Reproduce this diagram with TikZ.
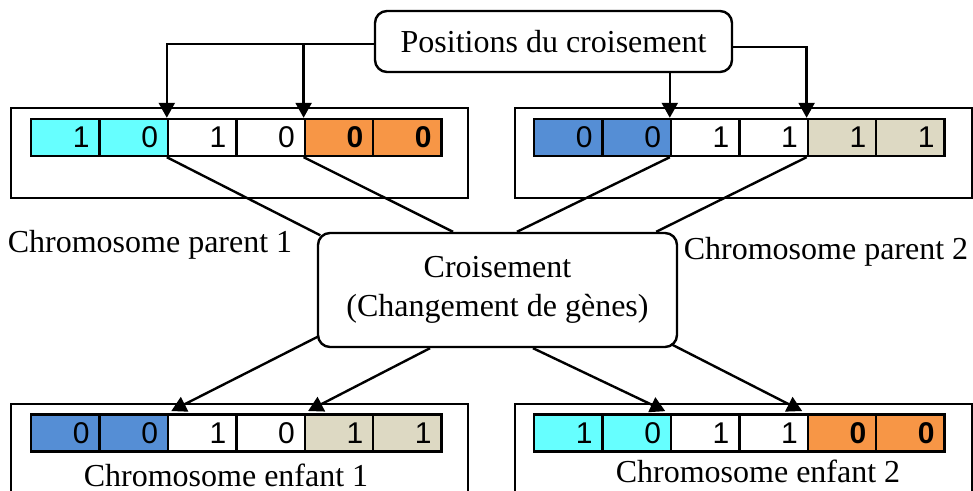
\documentclass[tikz,border=0pt]{standalone}
\usepackage{fontspec}
\setmainfont{Liberation Serif}
\newfontfamily\digitfont{Liberation Sans}
\usetikzlibrary{arrows.meta}

\definecolor{genecyan}{HTML}{66FFFF}
\definecolor{geneblue}{HTML}{558ED5}
\definecolor{geneorange}{HTML}{F79646}
\definecolor{genebeige}{HTML}{DDD9C3}

\tikzset{
  gene/.style = {draw, line width=1.2pt, anchor=west, minimum height=18.5pt,
    text width=24.2pt, inner xsep=5pt, inner ysep=0pt, align=right,
    font=\digitfont\fontsize{15}{17}\selectfont},
  chromo/.style = {draw, line width=1.2pt, minimum width=228.5pt},
  rbox/.style = {draw, line width=1.2pt, rounded corners=6pt, fill=white,
    align=center, font=\fontsize{16}{19.5}\selectfont},
  chromlabel/.style = {anchor=base, inner sep=0pt, font=\fontsize{16}{19.5}\selectfont},
  link/.style = {line width=1.2pt},
  fleche/.style = {line width=1.2pt, -{Triangle[length=7.5pt, width=8pt]}}
}

\begin{document}
\begin{tikzpicture}[x=0.5pt, y=-0.5pt]

\useasboundingbox ( 0, 0 ) rectangle ( 973, 491 );
\clip ( 0, 0 ) rectangle ( 973, 491 );

% Frames of the chromosomes
\node (par1) [chromo, minimum height=45pt] at ( 239.5, 153 ) {};
\node (par2) [chromo, minimum height=45pt] at ( 743.5, 153 ) {};
\node (enf1) [chromo, minimum height=58pt] at ( 239.5, 462 ) {};
\node (enf2) [chromo, minimum height=58pt] at ( 743.5, 462 ) {};

% Genes
\foreach \nom/\xo/\yo/\genes in {par1/30/137.5/{genecyan/1,genecyan/0,white/1,white/0,geneorange/\bfseries 0,geneorange/\bfseries 0},par2/533/137.5/{geneblue/0,geneblue/0,white/1,white/1,genebeige/1,genebeige/1},enf1/30/433/{geneblue/0,geneblue/0,white/1,white/0,genebeige/1,genebeige/1},enf2/533/433/{genecyan/1,genecyan/0,white/1,white/1,geneorange/\bfseries 0,geneorange/\bfseries 0}}
  \foreach \col/\val [count=\i] in \genes
    \node (\nom-\i) [gene, fill=\col] at ( {\xo+(\i-1)*68.4}, \yo ) {\val};

% Labels
\node (par1lbl) [chromlabel] at ( 150, 253 ) {Chromosome parent 1};
\node (par2lbl) [chromlabel] at ( 826, 260 ) {Chromosome parent 2};
\node (enf1lbl) [chromlabel] at ( 226, 486 ) {Chromosome enfant 1};
\node (enf2lbl) [chromlabel] at ( 758, 482 ) {Chromosome enfant 2};

% Boxes
\node (pos) [rbox, minimum width=178.5pt, minimum height=30.5pt] at ( 553.5, 41.5 ) {Positions du croisement};
\node (cross) [rbox, minimum width=179.5pt, minimum height=57pt] at ( 497.5, 290 ) {Croisement\\(Changement de gènes)};

% Crossover positions
\coordinate (posl) at ([yshift=-1.25pt]pos.west);
\coordinate (posr) at ([yshift=-2.75pt]pos.east);
\draw [fleche] (posl) -| (par1-3.north west);
\draw [fleche] (posl -| par1-5.north west) -- (par1-5.north west);
\draw [fleche] (posr) -| (par2-5.north west);
\draw [fleche] (pos.south -| par2-3.north west) -- (par2-3.north west);

% Parents into the crossover
\draw [link] (par1-3.south west) -- ([shift={(1.75pt,-1.75pt)}]cross.north west);
\draw [link] (par1-5.south west) -- ([xshift=-22.25pt]cross.north);
\draw [link] (par2-3.south west) -- ([xshift=9.75pt]cross.north);
\draw [link] (par2-5.south west) -- ([xshift=-11pt]cross.north east);

% Children
\draw [fleche, shorten >=2.5pt] ([shift={(1pt,6pt)}]cross.south west) -- (enf1-3.north west);
\draw [fleche, shorten >=2.5pt] ([xshift=-33.75pt]cross.south) -- (enf1-5.north west);
\draw [fleche, shorten >=2.5pt] ([xshift=17.75pt]cross.south) -- (enf2-3.north west);
\draw [fleche, shorten >=2.5pt] ([shift={(-3.5pt,2pt)}]cross.south east) -- (enf2-5.north west);

\end{tikzpicture}
\end{document}
